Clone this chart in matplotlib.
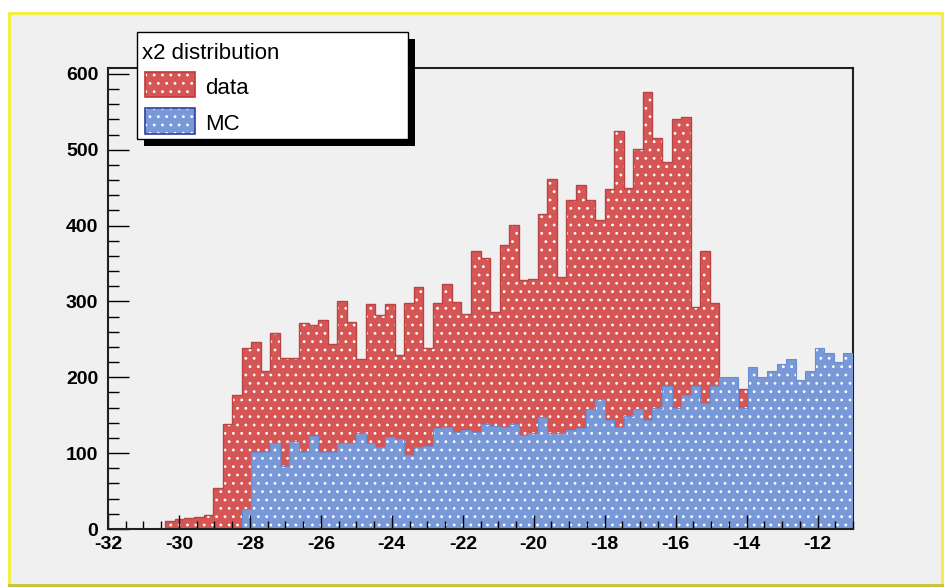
import matplotlib
matplotlib.use('Agg')
import matplotlib.pyplot as plt
import numpy as np
from matplotlib.patches import Rectangle
from matplotlib.lines import Line2D
from matplotlib.ticker import MultipleLocator

# histogram range and contents (78 bins from -32 to -11)
x_min, x_max = -32, -11
data_counts = [0, 0, 0, 0, 0, 0,
               11, 13, 14, 16, 18, 54, 139, 177,
               239, 246, 208, 258, 225, 225, 271, 269,
               276, 244, 300, 273, 224, 296, 282, 296,
               230, 298, 319, 239, 298, 323, 299, 283,
               366, 357, 286, 375, 401, 328, 330, 415,
               462, 332, 434, 453, 434, 407, 448, 525,
               450, 501, 576, 515, 484, 541, 543, 293,
               366, 298, 0, 0, 184,
               0, 0, 0, 0, 0, 0, 0, 0, 0, 0, 0]
mc_counts = [0, 0, 0, 0, 0, 0, 0, 0, 0, 0, 0, 0, 0, 0,
             27, 102, 102, 114, 83, 116, 102, 122,
             102, 102, 114, 114, 127, 114, 108, 121,
             118, 98, 108, 110, 133, 135, 128, 130,
             128, 138, 136, 134, 138, 124, 126, 147,
             127, 127, 131, 133, 158, 171, 144, 135,
             149, 158, 144, 160, 188, 160, 177, 188,
             166, 188, 200, 200, 160, 213, 200, 208,
             217, 224, 196, 208, 238, 232, 220, 232]
legend_title = 'x2 distribution'
legend_labels = ['data', 'MC']

W, H = 944, 588
plt.rcParams['font.family'] = ['Liberation Sans', 'DejaVu Sans']
plt.rcParams['font.weight'] = 'bold'
plt.rcParams['axes.unicode_minus'] = False
plt.rcParams['hatch.color'] = 'white'
plt.rcParams['hatch.linewidth'] = 0.8

red = '#d65656'
blue = '#7898d8'
canvas = '#f0f0f0'


def fx(px):
    return px / W


def fy(py):
    return 1 - py / H


def prect(x0, y0, x1, y1, **kw):
    # rectangle given in pixel coords (origin top-left)
    return Rectangle((fx(x0), fy(y1)), fx(x1) - fx(x0), fy(y0) - fy(y1),
                     transform=fig.transFigure, **kw)


fig = plt.figure(figsize=(W / 100, H / 100), dpi=100, facecolor='white')

# ROOT canvas with yellow border
fig.add_artist(prect(8.5, 13, 941.5, 584.5, facecolor=canvas,
                     edgecolor='#f4ee4a', lw=2.2, zorder=-2))
fig.add_artist(Line2D([fx(8.5), fx(941.5)], [fy(585), fy(585)],
                      transform=fig.transFigure, color='#c8c43c', lw=2.2, zorder=-1))

ax = fig.add_axes([fx(108), fy(529), fx(853) - fx(108), fy(68.5) - fy(529)])
ax.set_facecolor(canvas)

edges = np.linspace(x_min, x_max, len(data_counts) + 1)
ax.stairs(data_counts, edges, fill=True, facecolor=red, hatch='..', zorder=1)
ax.stairs(data_counts, edges, color='#b84444', lw=1, zorder=1.1)
ax.stairs(mc_counts, edges, fill=True, facecolor=blue, hatch='..', zorder=1.2)
ax.stairs(mc_counts, edges, color='#6c8cd0', lw=0.8, zorder=1.3)

ax.set_xlim(x_min, x_max)
ax.set_ylim(0, 607)

ax.xaxis.set_major_locator(MultipleLocator(2))
ax.xaxis.set_minor_locator(MultipleLocator(0.5))
ax.yaxis.set_major_locator(MultipleLocator(100))
ax.yaxis.set_minor_locator(MultipleLocator(20))
ax.tick_params(which='both', direction='in', top=False, right=False,
               color='black', width=1, labelsize=14)
ax.tick_params(axis='x', which='major', length=10, pad=5)
ax.tick_params(axis='x', which='minor', length=5.5)
ax.tick_params(axis='y', which='major', length=15, pad=7)
ax.tick_params(axis='y', which='minor', length=8)

for s in ax.spines.values():
    s.set_linewidth(1.5)
    s.set_color('#202020')
ax.spines['right'].set_zorder(0.5)

# legend box (drawn by hand, ROOT style with shadow)
fig.add_artist(prect(143.7, 38.7, 415, 146, facecolor='black', lw=0, zorder=5))
fig.add_artist(prect(136.7, 31.7, 408, 139, facecolor='white',
                     edgecolor='black', lw=1, zorder=6))
fig.text(fx(141.7), fy(59.3), legend_title, fontsize=16, fontweight='normal',
         va='baseline', ha='left', zorder=7)

entry_colors = [(red, '#c03a3a'), (blue, '#3040a0')]
entry_boxes = [(71.7, 97.3), (107.7, 134)]
entry_base = [94, 130]
for (fc, ec), (y0, y1), yb, lab in zip(entry_colors, entry_boxes, entry_base, legend_labels):
    fig.add_artist(prect(145, y0, 195, y1, facecolor=fc, lw=0, hatch='..', zorder=7))
    fig.add_artist(prect(145, y0, 195, y1, facecolor='none', edgecolor=ec, lw=1.2, zorder=8))
    fig.text(fx(205), fy(yb), lab, fontsize=16, fontweight='normal',
             va='baseline', ha='left', zorder=8)

fig.savefig('out.png', dpi=100)
